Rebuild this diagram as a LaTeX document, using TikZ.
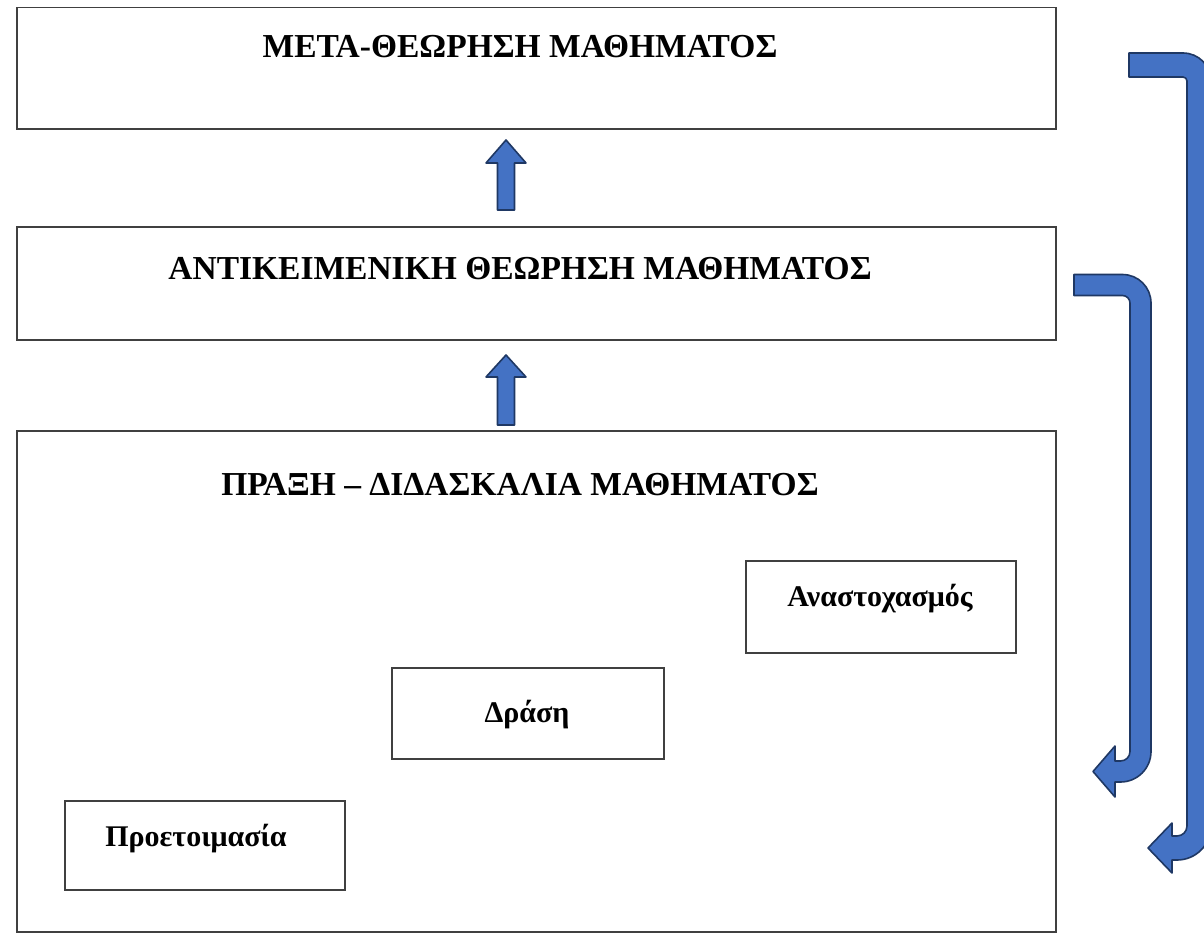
\documentclass[tikz,border=0pt]{standalone}
\usepackage{fontspec}
\setmainfont{Liberation Serif}
\definecolor{arrfill}{HTML}{4472C4}
\definecolor{arrline}{HTML}{1F3864}
\definecolor{boxline}{HTML}{404040}
\begin{document}
\begin{tikzpicture}[x=1pt,y=-1pt,
  box/.style={draw=boxline, line width=1.5pt, fill=none, inner sep=0pt, anchor=north west},
  ttl/.style={font=\bfseries\fontsize{33.5}{40}\selectfont, anchor=base, inner sep=0pt},
  sml/.style={font=\bfseries\fontsize{30}{36}\selectfont, anchor=base, inner sep=0pt},
  blk/.style={fill=arrfill, draw=arrline, line width=1.6pt, line join=round}]
\useasboundingbox (0,0) rectangle (1204,934);
\clip (0,0) rectangle (1204,934);
\fill[white] (0,0) rectangle (1204,934);
% boxes
\node[box, minimum width=1039pt, minimum height=121pt] (meta) at (16,7) {};
\node[box, minimum width=1039pt, minimum height=113pt] (anti) at (16,226) {};
\node[box, minimum width=1039pt, minimum height=501pt] (prax) at (16,430) {};
\node[box, minimum width=270pt, minimum height=92pt] (anas) at (745,560) {};
\node[box, minimum width=272pt, minimum height=91pt] (dras) at (391,667) {};
\node[box, minimum width=280pt, minimum height=89pt] (proe) at (64,800) {};
% texts
\node[ttl] (metat) at (520,58) {ΜΕΤΑ-ΘΕΩΡΗΣΗ ΜΑΘΗΜΑΤΟΣ};
\node[ttl] (antit) at (520,279) {ΑΝΤΙΚΕΙΜΕΝΙΚΗ ΘΕΩΡΗΣΗ ΜΑΘΗΜΑΤΟΣ};
\node[ttl] (praxt) at (520,495) {ΠΡΑΞΗ – ΔΙΔΑΣΚΑΛΙΑ ΜΑΘΗΜΑΤΟΣ};
\node[sml] (anast) at (880,606) {Αναστοχασμός};
\node[sml] (drast) at (527,722) {Δράση};
\node[sml] (proet) at (196,846) {Προετοιμασία};
% straight up arrows
\draw[blk] (497.5,210) -- (497.5,163) -- (486,163) -- (506,140) -- (526,163) -- (514.5,163) -- (514.5,210) -- cycle;
\draw[blk] (497.5,425) -- (497.5,377) -- (486,377) -- (506,355) -- (526,377) -- (514.5,377) -- (514.5,425) -- cycle;
% inner bent arrow
\draw[blk] (1074,274.5) -- (1122.5,274.5) arc[start angle=-90, end angle=0, radius=28.5]
  -- (1151,751.5) arc[start angle=0, end angle=90, radius=30.5]
  -- (1115,782) -- (1115,797) -- (1093,771.5) -- (1115,746) -- (1115,761) -- (1120.5,761)
  arc[start angle=90, end angle=0, radius=9.5]
  -- (1130,303) arc[start angle=0, end angle=-90, radius=7.5]
  -- (1074,295.5) -- cycle;
% outer bent arrow
\draw[blk] (1129,53) -- (1183,53) arc[start angle=-90, end angle=0, radius=28]
  -- (1211,826) arc[start angle=0, end angle=90, radius=34]
  -- (1172,860) -- (1172,873) -- (1148,848) -- (1172,823) -- (1172,836) -- (1177,836)
  arc[start angle=90, end angle=0, radius=10]
  -- (1187,81) arc[start angle=0, end angle=-90, radius=4]
  -- (1129,77) -- cycle;
\end{tikzpicture}
\end{document}
